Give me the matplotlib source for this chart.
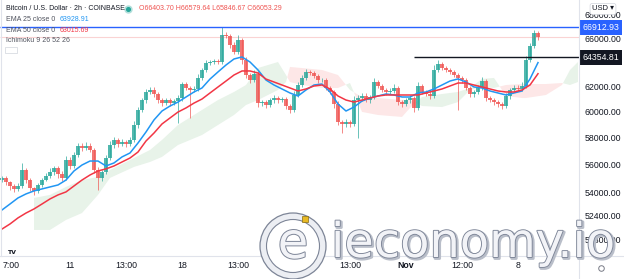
import numpy as np
import pandas as pd
import matplotlib
matplotlib.use('Agg')
import matplotlib.pyplot as plt
import matplotlib.dates as mdates
import matplotlib.patheffects as pe
from matplotlib.patches import Circle, Rectangle
from matplotlib.ticker import FuncFormatter, NullLocator

# 6h samples of BTC/USD (Coinbase)
start = '2021-10-06 18:00'
first_open = 54900
closes = [
    55050, 54760, 54480, 54270, 54480, 55620, 54900, 54340, 54130, 54550,
    54900, 55190, 55480, 55770, 55330, 55050, 56350, 55910, 56710, 57380,
    57230, 57380, 57080, 55620, 55050, 55480, 56490, 57450, 57830, 57530,
    57680, 57530, 57830, 58960, 60120, 60900, 61540, 61700, 61380, 60900,
    60660, 60900, 60660, 60820, 61060, 62180, 61860, 61700, 61780, 62670,
    63320, 63900, 63980, 64060, 63980, 66260, 66170, 65410, 64820, 65830,
    64150, 62910, 62500, 62990, 60660, 60740, 60510, 60900, 61060, 60900,
    60980, 60430, 60120, 61300, 62100, 62670, 63160, 63070, 62830, 62500,
    62500, 61860, 61540, 60590, 59190, 59040, 59190, 59040, 60900, 61060,
    61220, 60900, 61140, 62340, 62020, 61700, 61540, 61620, 61860, 60740,
    60590, 60900, 61060, 60280, 62020, 61540, 61380, 61220, 63320, 63810,
    63480, 63320, 63160, 62910, 62670, 62500, 61860, 61380, 61540, 61860,
    62420, 61060, 60900, 60740, 60590, 60430, 61220, 61700, 61860, 61780,
    62020, 64150, 65320, 66403.70, 66053.29,
]
upper_wick = [
    150, 120, 100, 150, 200, 510, 150, 120, 100, 150,
    150, 200, 250, 150, 120, 200, 300, 200, 250, 200,
    250, 300, 200, 150, 200, 150, 250, 300, 200, 150,
    200, 150, 250, 300, 250, 200, 200, 250, 200, 150,
    150, 200, 150, 200, 250, 150, 200, 150, 250, 300,
    200, 250, 200, 150, 200, 650, 300, 200, 250, 430,
    200, 250, 200, 300, 250, 150, 200, 150, 200, 150,
    200, 150, 150, 300, 250, 200, 250, 150, 200, 150,
    150, 200, 150, 150, 200, 150, 250, 150, 300, 250,
    200, 200, 150, 300, 200, 150, 150, 250, 300, 150,
    200, 150, 200, 150, 300, 200, 150, 200, 400, 340,
    200, 150, 200, 150, 200, 150, 200, 150, 150, 200,
    300, 150, 150, 200, 150, 150, 250, 150, 200, 200,
    300, 300, 250, 310, 175.94,
]
lower_wick = [
    150, 200, 250, 200, 150, 150, 200, 250, 300, 150,
    150, 100, 150, 200, 250, 200, 150, 200, 150, 150,
    200, 150, 150, 200, 850, 200, 150, 150, 200, 250,
    150, 200, 150, 150, 200, 150, 200, 150, 200, 250,
    200, 150, 200, 150, 1700, 200, 150, 2200, 150, 200,
    150, 200, 150, 150, 200, 150, 200, 300, 200, 150,
    300, 250, 200, 150, 300, 200, 250, 150, 200, 200,
    150, 200, 250, 150, 150, 200, 150, 200, 150, 200,
    150, 150, 200, 300, 250, 690, 200, 250, 150, 2900,
    200, 150, 200, 150, 150, 200, 250, 150, 200, 250,
    200, 150, 200, 300, 150, 200, 150, 200, 150, 200,
    150, 200, 150, 200, 2550, 200, 150, 200, 250, 150,
    150, 200, 150, 200, 250, 250, 150, 200, 150, 150,
    150, 200, 200, 150, 206.62,
]

# EMA values at every second sample
ema25 = [
    52810, 53220, 53640, 53920, 54130, 54270, 54410, 54550, 54900, 55550,
    55980, 56270, 56270, 55910, 56130, 56570, 56860, 57600, 58430, 59350,
    60040, 60430, 60740, 61140, 61540, 61860, 62580, 63160, 63730, 64230,
    64400, 63980, 63320, 62500, 62100, 61780, 61460, 61220, 61700, 62100,
    62180, 61540, 60590, 60040, 60350, 60820, 61060, 61220, 61380, 61300,
    61140, 61140, 61460, 61540, 61780, 62100, 62420, 62590, 62340, 61940,
    61860, 61620, 61460, 61300, 61460, 61620, 62590, 63928.91,
]
ema50 = [
    51520, 51860, 52270, 52600, 52880, 53220, 53570, 53850, 54060, 54480,
    54900, 55260, 55550, 55700, 55910, 56200, 56490, 56930, 57750, 58350,
    59040, 59500, 59960, 60280, 60660, 60980, 61460, 61940, 62420, 62910,
    63240, 63240, 63070, 62580, 62340, 62100, 61860, 61620, 61780, 62020,
    62100, 61780, 61220, 60900, 60740, 60900, 61060, 61220, 61300, 61300,
    61300, 61300, 61300, 61460, 61620, 61780, 62020, 62260, 62260, 62100,
    61940, 61780, 61620, 61540, 61540, 61700, 62100, 63015.69,
]

# Ichimoku cloud (sample number, span A, span B)
cloud_idx = [8, 12, 16, 20, 24, 27, 33, 37, 40, 44, 50, 54, 58, 61, 64, 69, 71, 72, 75, 80,
             84, 87, 90, 94, 100, 102, 105, 110, 114, 117, 120, 123, 126, 130, 131, 136, 140, 142, 144]
span_a = [53640, 53850, 54410, 54900, 55120, 55620, 56490, 57080, 57830, 58960, 60120, 60900, 61540,
          62100, 63480, 63980, 62910, 62340, 62100, 61860, 61860, 62260, 59970, 59730, 59580, 60280,
          61140, 61380, 61540, 61860, 62590, 62670, 61220, 61060, 61060, 61300, 62100, 63320, 63980]
span_b = [51460, 51460, 52130, 52600, 53850, 55050, 55840, 56200, 56570, 57450, 58200, 58960, 59730,
          60510, 60900, 61700, 62340, 63570, 63480, 63320, 62910, 61700, 61140, 61060, 60900, 60900,
          60430, 60350, 60740, 61700, 61940, 61860, 62100, 62180, 62180, 62180, 62260, 62100, 62340]

ath_line = 66912.93
level_line = 64354.81
level_from = 103

price_ticks = [50800, 52400, 54000, 56000, 58000, 60000, 62000, 64000, 66000, 68000]
time_ticks = ['2021-10-07 07:00', '2021-10-11 00:00', '2021-10-14 13:00', '2021-10-18 00:00',
              '2021-10-21 13:00', '2021-10-28 13:00', '2021-11-01 00:00',
              '2021-11-04 12:00', '2021-11-08 00:00']
time_labels = ['7:00', '11', '13:00', '18', '13:00', '13:00', 'Nov', '12:00', '8']

UP, DOWN = '#26a69a', '#ef5350'
TXT = '#131722'
GRID = '#e0e3eb'
AXFONT = ['Liberation Sans', 'DejaVu Sans']

step = pd.Timedelta(hours=6)
t0 = pd.Timestamp(start)
t = pd.date_range(start, periods=len(closes), freq='6h')
x = mdates.date2num(t)
c = np.array(closes)
o = np.r_[first_open, c[:-1]]
h = np.maximum(o, c) + np.array(upper_wick)
l = np.minimum(o, c) - np.array(lower_wick)
col = np.where(c >= o, UP, DOWN)

fig = plt.figure(figsize=(6.24, 2.79), dpi=100)
ax = fig.add_axes([0, 23 / 279, 579 / 624, 256 / 279])
ax.set_yscale('log')

# cloud
cx = mdates.date2num(t0 + step * np.array(cloud_idx))
a = np.array(span_a)
b = np.array(span_b)
ax.fill_between(cx, a, b, where=a >= b, interpolate=True, color='#e8f3e9', lw=0, zorder=1)
ax.fill_between(cx, a, b, where=a < b, interpolate=True, color='#fde7e7', lw=0, zorder=1)

# candles
ax.vlines(x, l, h, colors=col, lw=0.6, alpha=0.8, zorder=2)
ax.bar(x, c - o, bottom=o, width=0.19, color=col, lw=0, alpha=0.8, zorder=2)

# EMAs
ex = x[np.arange(0, len(closes), 2)]
ax.plot(ex, ema25, color='#2196f3', lw=1.1, zorder=3)
ax.plot(ex, ema50, color='#f23645', lw=1.1, zorder=3)

# horizontal lines
x0 = mdates.date2num(t0 - 0.5 * step)
x1 = mdates.date2num(t0 + 144.25 * step)
ax.hlines(c[-1], x0, x1, color=DOWN, lw=0.8, alpha=0.25, zorder=2)
ax.hlines(ath_line, x0, x1, color='#2962ff', lw=1.0, zorder=4)
ax.hlines(level_line, x[level_from], x1, color=TXT, lw=1.0, zorder=4)

ax.set_xlim(x0, x1)
ax.set_ylim(49750, 69335)

ax.yaxis.tick_right()
ax.yaxis.set_minor_locator(NullLocator())
ax.set_yticks(price_ticks)
ax.yaxis.set_major_formatter(FuncFormatter(lambda v, _: f'{v:.2f}'))
ax.set_xticks(mdates.date2num(pd.to_datetime(time_ticks)))
ax.set_xticklabels(time_labels)
ax.tick_params(axis='both', length=0, labelsize=6.3, labelcolor=TXT)
ax.tick_params(axis='y', pad=4)
ax.tick_params(axis='x', pad=3.5)
for lab in ax.get_xticklabels() + ax.get_yticklabels():
    lab.set_family(AXFONT)
    if lab.get_text() == 'Nov':
        lab.set_fontweight('bold')
for s in ax.spines.values():
    s.set_visible(False)

for val, fc in [(ath_line, '#2962ff'), (level_line, TXT)]:
    ax.annotate(f'{val:.2f}', xy=(1.0, val), xycoords=('axes fraction', 'data'),
                xytext=(2.5, 0), textcoords='offset points', ha='left', va='center',
                fontsize=6.3, family=AXFONT, color='white', annotation_clip=False, zorder=10,
                bbox=dict(boxstyle='square,pad=0.3', fc=fc, ec='none'))

# overlay in pixel coords
ov = fig.add_axes([0, 0, 1, 1], zorder=5)
ov.set_xlim(0, 624)
ov.set_ylim(279, 0)
ov.axis('off')
ov.patch.set_alpha(0)

ov.plot([579, 579], [0, 279], color=GRID, lw=0.8)
ov.plot([0, 624], [256, 256], color=GRID, lw=0.8)
ov.plot([0.5, 0.5], [0, 256], color=GRID, lw=0.8)

ov.text(603, 9, 'USD ▾', ha='center', va='center', fontsize=5.5, family=AXFONT, color=TXT,
        bbox=dict(boxstyle='round,pad=0.25', fc='white', ec='#d1d4dc', lw=0.5))


def legend_row(y, parts):
    # parts: (text, colour, gap in points before it)
    prev = None
    for txt, color, gap in parts:
        kw = dict(fontsize=5.0, family=AXFONT, color=color, va='center', ha='left')
        if prev is None:
            prev = ov.text(6, y, txt, **kw)
        else:
            prev = ov.annotate(txt, xy=(1, 0.5), xycoords=prev, xytext=(gap, 0),
                               textcoords='offset points', **kw)
    return prev


legend_row(9, [('Bitcoin / U.S. Dollar · 2h · COINBASE', TXT, 0)])
ov.plot(128, 9, 'o', ms=5, color='#b2dfdb')
ov.plot(128, 9, 'o', ms=2.6, color=UP)
ov.text(139, 9, f'O{o[-1]:.2f} H{h[-1]:.2f} L{l[-1]:.2f} C{c[-1]:.2f}', fontsize=5.0,
        family=AXFONT, color=DOWN, va='center')
legend_row(19.5, [('EMA 25 close 0', '#50535e', 0), (f'{ema25[-1]:.2f}', '#2196f3', 3)])
legend_row(30, [('EMA 50 close 0', '#50535e', 0), (f'{ema50[-1]:.2f}', '#f23645', 3)])
legend_row(40.5, [('Ichimoku 9 26 52 26', '#50535e', 0)])
ov.add_patch(Rectangle((5, 47), 12, 6, fc='white', ec='#d1d4dc', lw=0.5))

# tradingview badge and settings icon
ov.text(12, 253, 'TV', fontsize=4.5, fontweight='bold', ha='center', va='center', color=TXT)
ov.plot(601, 268, marker='o', ms=4, mfc='none', mec='#787b86', mew=0.7)

# watermark
edge = '#7d8597'
ov.add_patch(Circle((293, 246), 33, fc='#eceef3', ec=edge, lw=0.9, zorder=6))
ov.add_patch(Circle((293, 246), 26.5, fc='white', ec=edge, lw=0.8, zorder=6))
ov.text(293, 244, 'e', fontsize=36, ha='center', va='center', color='#f2f3f7', zorder=7,
        path_effects=[pe.withStroke(linewidth=1.4, foreground=edge)])
ov.add_patch(Rectangle((302, 216), 6, 6, fc='#e8b923', ec='#8a6d10', lw=0.5, zorder=8))
ov.text(331, 257, 'ieconomy.io', fontsize=34.5, va='baseline', ha='left', color='#f2f3f7',
        zorder=7, path_effects=[pe.Stroke(linewidth=2.2, foreground='#b9bec9', offset=(1, -1)),
                                pe.withStroke(linewidth=1.3, foreground=edge)])

fig.savefig('out.png', dpi=100)
